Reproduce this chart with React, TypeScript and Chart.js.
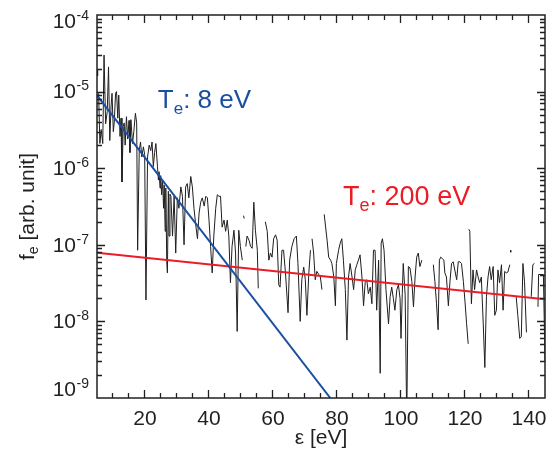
import React, { useEffect, useRef } from "react";
import { Chart, registerables } from "chart.js";

Chart.register(...registerables);

// electron energy ε [eV] of the measured distribution (null = no count)
const energy: number[] = [
  5.0, 5.2, 5.35, 5.5, 5.9, 6.3, 6.8, 7.2, 7.7, 8.2, 8.6, 9.0, 9.4, 9.7, 10.1, 10.4, 10.8, 11.1, 11.5, 11.8,
  12.2, 12.5, 12.8, 13.2, 13.5, 13.8, 14.2, 14.6, 15.0, 15.3, 15.6, 16.1, 16.5, 17.0, 17.4, 17.7, 18.2, 18.6, 19.0, 19.5,
  19.9, 20.3, 20.8, 21.3, 21.8, 22.2, 22.6, 23.0, 23.4, 23.9, 24.2, 24.4, 24.7, 24.9, 25.2, 25.5, 25.8, 26.0, 26.3, 26.5,
  26.8, 27.0, 27.3, 27.5, 27.8, 28.1, 28.6, 29.1, 29.6, 30.1, 30.6, 31.2, 31.7, 32.2, 32.7, 33.2, 33.7, 34.3, 34.8, 35.3,
  35.8, 36.4, 36.9, 37.4, 37.9, 38.5, 39.0, 39.5, 40.0, 40.5, 41.0, 41.5, 42.1, 42.6, 43.1, 43.6, 44.1, 44.7, 45.2, 45.7,
  46.2, 46.7, 47.2, 47.8, 48.3, 48.8, 49.3, 49.8, 50.4, 50.6, 50.8, 51.0, 51.2, 51.5, 51.9, 52.5, 53.0, 53.5, 54.0, 54.5,
  55.1, 55.4, 55.8, 57.6, 58.2, 58.7, 59.2, 59.7, 60.2, 60.8, 61.3, 61.8, 62.2, 62.8, 63.3, 63.9, 64.7, 65.2, 65.9, 66.6,
  67.3, 67.8, 68.5, 69.0, 69.6, 70.1, 70.6, 71.2, 71.7, 72.0, 72.2, 72.7, 73.2, 73.7, 74.3, 74.8, 75.3, 75.6, 76.0, 76.9,
  77.4, 78.0, 78.4, 79.0, 79.5, 79.8, 80.5, 81.0, 81.5, 82.0, 82.6, 83.1, 83.6, 84.1, 84.7, 85.2, 85.7, 86.2, 86.7, 87.2,
  87.8, 88.3, 88.8, 89.3, 89.8, 90.4, 90.9, 91.4, 91.9, 92.4, 93.0, 93.5, 93.8, 94.2, 94.7, 95.3, 96.1, 96.6, 97.1, 97.6,
  98.1, 98.7, 99.2, 99.7, 100.0, 100.4, 100.7, 101.3, 101.8, 102.3, 102.8, 103.4, 103.9, 104.4, 104.9, 105.4, 105.9, 106.5, 106.9, 110.1,
  110.6, 111.1, 111.6, 112.0, 112.4, 112.9, 113.4, 113.7, 114.2, 114.8, 115.3, 115.8, 116.3, 116.8, 117.4, 117.9, 118.4, 118.9, 119.5, 120.0,
  120.5, 121.0, 121.1, 121.2, 121.5, 122.0, 122.5, 123.0, 123.6, 124.1, 124.6, 125.1, 125.7, 126.2, 126.7, 127.2, 127.7, 128.2, 128.8, 129.3,
  129.8, 130.3, 130.8, 131.4, 131.9, 132.4, 132.9, 133.4, 134.0, 134.1, 134.2, 134.3, 134.4, 136.0, 136.5, 137.1, 137.6, 138.1, 138.6, 139.2,
  139.7, 140.7, 141.2, 141.7, 142.2, 142.8, 143.0, 144.5, 145.0,
];

// f_e [arb. unit]
const fe: (number | null)[] = [
  1.9e-5, 1.6e-5, null, 9.5e-6, 2.1e-6, 3.2e-6, 2.1e-6, 3.0e-5, 3.8e-6, 5.5e-6, 2.1e-5, 2.3e-6, 6.5e-6, 9.5e-6, 3.0e-6, 4.0e-6, 9.5e-6, 1.0e-5, 4.5e-6, 9.0e-6,
  2.6e-6, 4.5e-6, 6.6e-7, 3.5e-6, 3.9e-6, 2.0e-6, 4.7e-6, 2.4e-6, 4.2e-6, 1.6e-6, 4.3e-6, 2.1e-6, 3.0e-6, 5.2e-6, 3.9e-6, 8.5e-8, 1.7e-6, 2.2e-6, 1.4e-6, 1.9e-6,
  1.5e-6, 1.9e-8, 1.4e-6, 2.0e-6, 1.7e-6, 2.2e-6, 1.05e-6, 1.6e-6, 2.1e-6, 1.05e-6, 7.0e-7, 9.0e-7, 5.5e-7, 8.0e-7, 4.5e-7, 7.0e-7, 3.0e-7, 6.0e-7, 1.5e-7, 5.5e-7,
  6.0e-8, 4.3e-8, 5.0e-7, 1.3e-7, 4.6e-7, 4.3e-7, 1.3e-7, 4.3e-7, 7.8e-8, 4.1e-7, 3.0e-7, 5.7e-7, 4.3e-7, 1.0e-7, 5.7e-7, 6.3e-7, 4.1e-7, 7.8e-7, 5.7e-7, 3.0e-7,
  1.9e-7, 1.2e-7, 2.6e-7, 3.6e-7, 4.1e-7, 3.2e-7, 4.3e-7, 4.1e-7, 2.1e-7, 9.5e-8, 4.3e-8, 1.3e-7, 3.0e-7, 4.5e-7, 4.3e-7, 4.3e-7, 1.7e-7, 2.1e-7, 1.5e-7, 2.1e-7,
  1.3e-7, 3.2e-8, 9.5e-8, 1.55e-7, 7.8e-8, 7.4e-9, 1.55e-7, 9.5e-8, 6.3e-8, null, 2.4e-7, 2.2e-7, null, 9.5e-8, 1.3e-7, 1.15e-7, 9.5e-8, 9.0e-8, 3.6e-7, 1.55e-7,
  8.5e-8, 2.7e-8, null, 2.0e-7, 1.5e-7, 6.3e-8, 7.8e-8, 6.9e-8, 1.2e-7, 1.35e-7, 1.15e-7, 3.0e-8, 2.8e-8, 8.5e-8, 8.5e-8, 4.3e-8, 1.3e-8, 6.3e-8, 9.5e-8, 1.2e-7,
  1.3e-7, 5.7e-8, 1.0e-8, 3.5e-8, 5.1e-8, 3.5e-8, 1.2e-8, 4.3e-8, 8.5e-8, null, 1.2e-7, 7.8e-8, 3.5e-8, 4.5e-8, 4.1e-8, 3.8e-8, 2.6e-8, null, 2.5e-7, 1.15e-7,
  6.9e-8, 6.3e-8, 5.7e-8, 3.8e-8, 1.6e-8, 5.7e-8, 8.5e-8, 1.05e-7, 1.2e-7, 6.3e-8, 2.6e-8, 5.7e-9, 3.8e-8, 5.7e-8, 3.8e-8, 2.6e-8, 4.7e-8, 5.5e-8, 6.3e-8, 7.4e-8,
  3.8e-8, 1.6e-8, 3.2e-8, 3.5e-8, 2.3e-8, 2.8e-8, 1.7e-8, 8.5e-8, 8.5e-8, 1.4e-8, 6.3e-8, 2.1e-9, 1.05e-7, 1.2e-7, 8.5e-8, 2.6e-8, 9.3e-9, 2.1e-8, 2.8e-8, 2.0e-8,
  1.4e-8, 2.6e-8, 3.0e-8, 2.0e-8, 6.0e-9, 2.3e-8, 5.7e-8, 2.2e-8, 5.0e-10, 5.2e-8, 5.0e-8, 3.3e-8, 1.55e-8, 3.8e-8, 6.9e-8, 7.8e-8, 5.2e-8, 6.3e-8, null, 5.5e-8,
  3.3e-8, 1.7e-8, 7.8e-9, 6.3e-8, 6.9e-8, 6.6e-8, 6.3e-8, 4.3e-8, 3.8e-8, 1.6e-8, 3.3e-8, 5.7e-8, 6.0e-8, 4.7e-8, 3.5e-8, 6.0e-8, 6.0e-8, 5.7e-8, 3.3e-8, 1.8e-8,
  9.3e-9, 5.1e-9, null, 1.6e-7, 1.5e-7, 1.7e-8, 4.7e-8, 2.6e-8, 4.7e-8, 3.8e-8, 3.2e-8, 3.8e-8, 9.3e-9, 2.5e-9, 2.1e-8, 3.8e-8, 5.2e-8, 3.5e-8, 5.2e-8, 1.2e-8,
  1.4e-8, 4.7e-8, 3.2e-8, 5.5e-8, 1.4e-8, 4.5e-8, 4.3e-8, 4.4e-8, 5.5e-8, null, 8.5e-8, 8.0e-8, null, 2.1e-8, 1.2e-8, 6.0e-9, 6.3e-9, 5.7e-8, 3.3e-8, 7.2e-9,
  null, 2.1e-8, 5.5e-8, 5.7e-8, null, 1.55e-8, 4.1e-8, 4.1e-8, 3.0e-9,
];

// exponential fits (straight lines on the log axis)
const fit8eVEnergy = [5, 77.9];
const fit8eVValue = [8.9e-6, 1.0e-9];
const fit200eVEnergy = [5, 145];
const fit200eVValue = [7.9e-8, 1.95e-8];

const xTickLabels = [20, 40, 60, 80, 100, 120, 140];
const yTickExponents = [-9, -8, -7, -6, -5, -4];

const FONT = "'Liberation Sans', Arial, Helvetica, sans-serif";
const BLUE = "rgb(28,78,160)";
const RED = "rgb(236,28,36)";
const INK = "#231f20";

const frameTicks = {
  id: "frameTicks",
  afterDraw(chart: any) {
    const ctx: CanvasRenderingContext2D = chart.ctx;
    const a = chart.chartArea;
    const xs = chart.scales.x;
    const ys = chart.scales.y;
    const L = a.left, R = a.right, T = a.top, B = a.bottom;
    ctx.save();
    ctx.strokeStyle = INK;
    ctx.lineWidth = 1.3;
    ctx.beginPath();
    for (let v = 10; v < 145; v += 5) {
      const px = Math.round(xs.getPixelForValue(v)) - 0.5;
      const len = v % 20 === 0 ? 8 : 5;
      ctx.moveTo(px, B);
      ctx.lineTo(px, B - len);
      ctx.moveTo(px, T);
      ctx.lineTo(px, T + len);
    }
    for (let e = -9; e < -4; e++) {
      for (let m = 1; m <= 9; m++) {
        if (e === -9 && m === 1) continue;
        const py = Math.round(ys.getPixelForValue(m * Math.pow(10, e))) + 0.5;
        const len = m === 1 ? 8 : 5;
        ctx.moveTo(L, py);
        ctx.lineTo(L + len, py);
        ctx.moveTo(R, py);
        ctx.lineTo(R - len, py);
      }
    }
    ctx.stroke();
    ctx.lineWidth = 1.5;
    ctx.strokeRect(L, T, R - L, B - T);
    ctx.restore();
  },
};

const texts = {
  id: "texts",
  afterDraw(chart: any) {
    const ctx: CanvasRenderingContext2D = chart.ctx;
    const a = chart.chartArea;
    const xs = chart.scales.x;
    const ys = chart.scales.y;
    ctx.save();

    // x tick labels
    ctx.fillStyle = INK;
    ctx.font = `21px ${FONT}`;
    ctx.textAlign = "center";
    ctx.textBaseline = "middle";
    for (const v of xTickLabels) {
      ctx.fillText(String(v), xs.getPixelForValue(v), 419);
    }

    // y tick labels 10^n
    for (const e of yTickExponents) {
      let cy = ys.getPixelForValue(Math.pow(10, e)) + 1;
      if (e === -4) cy += 6;
      if (e === -9) cy -= 9;
      ctx.font = `21px ${FONT}`;
      ctx.textAlign = "right";
      ctx.fillText("10", 76, cy);
      ctx.font = `14px ${FONT}`;
      ctx.textAlign = "left";
      ctx.fillText(String(e), 76.5, cy - 6);
    }

    // x title
    ctx.font = `21px ${FONT}`;
    ctx.textAlign = "center";
    ctx.fillText("ε [eV]", (a.left + a.right) / 2, 438);

    // y title f_e [arb. unit]
    ctx.save();
    ctx.translate(34, (a.top + a.bottom) / 2);
    ctx.rotate(-Math.PI / 2);
    ctx.textBaseline = "alphabetic";
    ctx.textAlign = "left";
    ctx.font = `21px ${FONT}`;
    const wf = ctx.measureText("f").width;
    const rest = " [arb. unit]";
    const wr = ctx.measureText(rest).width;
    ctx.font = `14px ${FONT}`;
    const we = ctx.measureText("e").width;
    let sx = -(wf + we + wr) / 2;
    ctx.font = `21px ${FONT}`;
    ctx.fillText("f", sx, 0);
    sx += wf;
    ctx.font = `14px ${FONT}`;
    ctx.fillText("e", sx, 4);
    sx += we;
    ctx.font = `21px ${FONT}`;
    ctx.fillText(rest, sx, 0);
    ctx.restore();

    // annotations
    const label = (x0: number, y0: number, size: number, color: string, tail: string) => {
      ctx.fillStyle = color;
      ctx.textAlign = "left";
      ctx.textBaseline = "alphabetic";
      ctx.font = `${size}px ${FONT}`;
      ctx.fillText("T", x0, y0);
      let x = x0 + ctx.measureText("T").width;
      ctx.font = `${Math.round(size * 0.65)}px ${FONT}`;
      ctx.fillText("e", x, y0 + 6);
      x += ctx.measureText("e").width;
      ctx.font = `${size}px ${FONT}`;
      ctx.fillText(tail, x, y0);
    };
    label(xs.getPixelForValue(24.0), ys.getPixelForValue(6.1e-6), 26, BLUE, ": 8 eV");
    label(xs.getPixelForValue(81.9), ys.getPixelForValue(3.3e-7), 27, RED, ": 200 eV");

    ctx.restore();
  },
};

export default function App() {
  const canvasRef = useRef<HTMLCanvasElement | null>(null);

  useEffect(() => {
    document.body.style.margin = "0";
    const canvas = canvasRef.current;
    if (!canvas) return;
    const chart = new Chart(canvas, {
      type: "line",
      data: {
        datasets: [
          {
            data: fit8eVEnergy.map((x, i) => ({ x, y: fit8eVValue[i] })),
            borderColor: BLUE,
            borderWidth: 2,
            pointRadius: 0,
            order: 0,
          },
          {
            data: fit200eVEnergy.map((x, i) => ({ x, y: fit200eVValue[i] })),
            borderColor: RED,
            borderWidth: 2,
            pointRadius: 0,
            order: 1,
          },
          {
            data: energy.map((x, i) => ({ x, y: fe[i] })),
            borderColor: "#1e1e1e",
            borderWidth: 1,
            pointRadius: 0,
            spanGaps: false,
            order: 2,
          },
        ],
      },
      options: {
        animation: false,
        responsive: false,
        devicePixelRatio: 1,
        layout: { padding: { left: 0, right: 9, top: 15, bottom: 0 } },
        plugins: { legend: { display: false }, tooltip: { enabled: false } },
        elements: { line: { tension: 0 } },
        scales: {
          x: {
            type: "linear",
            min: 5,
            max: 145,
            grid: { display: false },
            border: { display: false },
            ticks: { display: false },
            afterFit: (s: any) => {
              s.height = 58;
            },
          },
          y: {
            type: "logarithmic",
            min: 1e-9,
            max: 1e-4,
            grid: { display: false },
            border: { display: false },
            ticks: { display: false },
            afterFit: (s: any) => {
              s.width = 97;
            },
          },
        },
      },
      plugins: [frameTicks, texts],
    } as any);
    return () => chart.destroy();
  }, []);

  return (
    <div style={{ position: "fixed", left: 0, top: 0, width: 554, height: 456, background: "#fff" }}>
      <canvas ref={canvasRef} width={554} height={456} style={{ display: "block" }} />
    </div>
  );
}
